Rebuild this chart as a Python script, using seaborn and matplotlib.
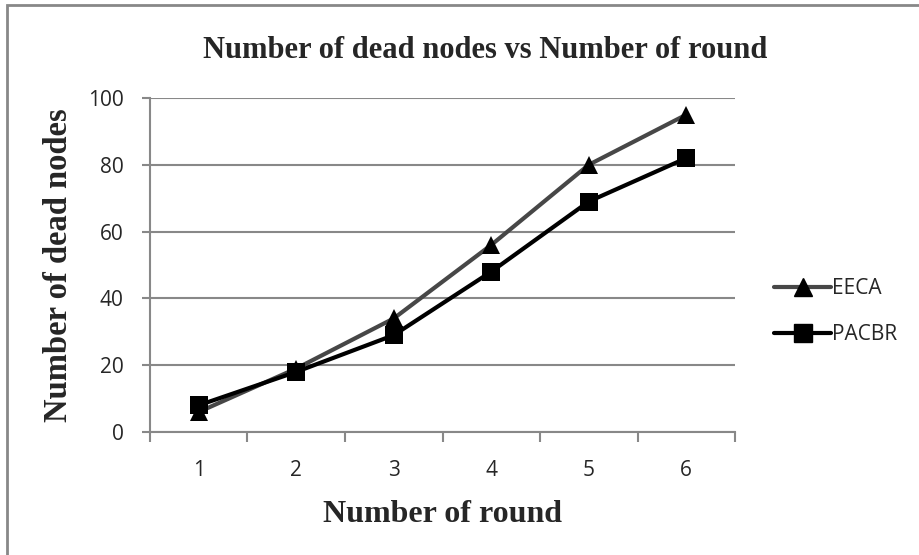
import matplotlib
matplotlib.use("Agg")
import matplotlib.pyplot as plt
import pandas as pd
import seaborn as sns
from matplotlib.patches import Rectangle

# Data
rounds = [1, 2, 3, 4, 5, 6]
eeca = [6, 19, 34, 56, 80, 95]
pacbr = [8, 18, 29, 48, 69, 82]
series_names = ["EECA", "PACBR"]
y_ticks = [0, 20, 40, 60, 80, 100]

df = pd.DataFrame({
    "round": rounds * 2,
    "dead": eeca + pacbr,
    "series": [series_names[0]] * len(rounds) + [series_names[1]] * len(rounds),
})

sns.set_style("white")
plt.rcParams["font.family"] = ["Open Sans", "DejaVu Sans"]

fig = plt.figure(figsize=(9.2, 5.55), dpi=100)
ax = fig.add_axes([150 / 920, 1 - 432 / 555, (735 - 150) / 920, (432 - 98) / 555])

grid_col = "#888888"
sns.lineplot(
    data=df, x="round", y="dead", hue="series", style="series",
    palette={"EECA": "#474747", "PACBR": "#000000"},
    markers={"EECA": "^", "PACBR": "s"}, dashes=False,
    linewidth=3, markersize=13, markeredgewidth=0,
    ax=ax, legend=False,
)
# markers themselves are black for both series
for line in ax.lines:
    line.set_markerfacecolor("black")
    line.set_markeredgecolor("black")

ax.set_xlim(0.5, 6.5)
ax.set_ylim(0, 100)
ax.set_yticks(y_ticks)
ax.set_xticks(rounds)
ax.set_xticks([r - 0.5 for r in rounds] + [6.5], minor=True)
ax.yaxis.grid(True, color=grid_col, linewidth=1.5)
ax.set_axisbelow(True)
for s in ["top", "right"]:
    ax.spines[s].set_visible(False)
for s in ["left", "bottom"]:
    ax.spines[s].set_color(grid_col)
    ax.spines[s].set_linewidth(1.5)

ax.tick_params(axis="y", which="major", length=6, width=1.5, color=grid_col,
               direction="out", labelsize=15, pad=13, left=True)
ax.tick_params(axis="x", which="major", length=0, labelsize=15, pad=20)
ax.tick_params(axis="x", which="minor", length=7, width=1.5, color=grid_col,
               direction="out", bottom=True)

serif = ["Liberation Serif", "DejaVu Serif"]
ax.set_title("Number of dead nodes vs Number of round", family=serif,
             fontsize=22, fontweight="bold", pad=29, x=0.573)
ax.set_xlabel("Number of round", family=serif, fontsize=23, fontweight="bold", labelpad=14)
ax.set_ylabel("Number of dead nodes", family=serif, fontsize=23.5, fontweight="bold", labelpad=10)

handles = [
    plt.Line2D([], [], color="#474747", lw=3, marker="^", ms=13,
               mfc="black", mec="black"),
    plt.Line2D([], [], color="black", lw=3, marker="s", ms=13,
               mfc="black", mec="black"),
]
fig.legend(handles, series_names, loc="center left",
           bbox_to_anchor=(764 / 920, 1 - 312 / 555), frameon=False, borderpad=0,
           fontsize=15, handlelength=2.7, handletextpad=0.05, labelspacing=1.2)

# outer chart border (only top and left visible in the reference crop)
fig.patches.append(Rectangle((7 / 920, -0.1), 1.2, 1 - 5 / 555 + 0.1,
                             transform=fig.transFigure, fill=False,
                             edgecolor="#888888", linewidth=2))

fig.savefig("out.png", dpi=100)
